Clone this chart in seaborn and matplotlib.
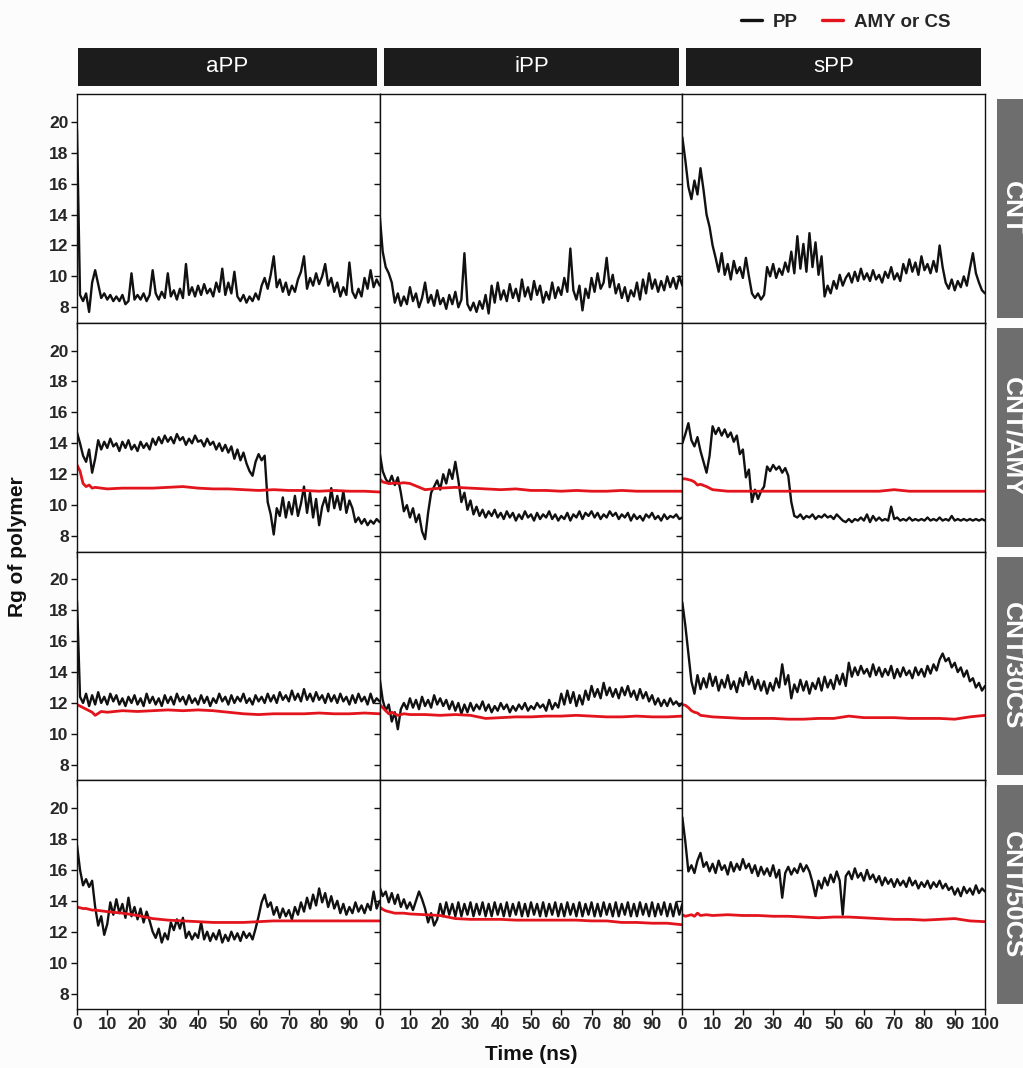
import matplotlib
matplotlib.use("Agg")
import matplotlib.pyplot as plt
import seaborn as sns
import pandas as pd
from matplotlib.patches import Rectangle
from matplotlib.lines import Line2D

# ---------------- data ----------------
POLYMERS = ["aPP", "iPP", "sPP"]
SYSTEMS = ["CNT", "CNT/AMY", "CNT/30CS", "CNT/50CS"]
PP_TIME = list(range(0, 101))
RED_TIME = [0, 1, 2, 3, 4, 5, 6, 8, 10, 15, 20, 25, 30, 35, 40, 45, 50, 55, 60,
            65, 70, 75, 80, 85, 90, 95, 100]
X_TICKS_AB = [0, 10, 20, 30, 40, 50, 60, 70, 80, 90]
X_TICKS_S = [0, 10, 20, 30, 40, 50, 60, 70, 80, 90, 100]
Y_TICKS = [8, 10, 12, 14, 16, 18, 20]

aPP_CNT_PP = [
    19.5, 8.8, 8.4, 8.9, 7.7, 9.6, 10.4, 9.5, 8.6, 8.9,
    8.5, 8.8, 8.4, 8.7, 8.4, 8.8, 8.2, 8.4, 10.2, 8.5,
    8.8, 8.5, 8.9, 8.4, 8.8, 10.4, 8.9, 8.5, 9.0, 8.6,
    10.2, 8.7, 9.1, 8.5, 9.2, 8.6, 10.8, 8.8, 9.3, 8.7,
    9.4, 8.8, 9.5, 8.9, 9.2, 8.7, 9.6, 9.0, 10.5, 8.8,
    9.6, 8.9, 10.3, 8.7, 8.4, 8.8, 8.3, 8.7, 8.4, 8.9,
    8.5, 9.4, 9.9, 9.2, 10.1, 11.3, 9.3, 9.8, 9.0, 9.6,
    8.8, 9.4, 9.0, 9.8, 10.3, 11.3, 9.2, 9.9, 9.4, 10.2,
    9.5, 10.0, 10.8, 9.4, 9.9, 9.0, 9.6, 8.7, 9.3, 8.8,
    10.9, 9.0, 8.6, 9.2, 8.7, 9.9, 9.2, 10.4, 9.3, 9.8,
    9.4]
iPP_CNT_PP = [
    14.0, 11.6, 10.6, 10.2, 9.6, 8.3, 8.9, 8.1, 8.7, 8.2,
    9.3, 8.4, 8.9, 8.0, 8.6, 9.6, 8.3, 8.8, 8.1, 9.1,
    8.2, 8.6, 7.9, 8.8, 8.2, 9.0, 8.0, 8.5, 11.5, 8.2,
    7.8, 8.3, 7.7, 8.4, 7.9, 8.8, 7.6, 9.4, 8.3, 9.6,
    8.5, 9.1, 8.4, 9.5, 8.6, 9.2, 8.4, 9.8, 8.7, 9.3,
    8.5, 9.7, 8.8, 9.4, 8.3, 9.0, 8.5, 9.6, 8.6, 9.3,
    8.8, 9.9, 9.0, 11.8, 9.1, 8.5, 9.4, 7.8, 9.2, 8.6,
    9.9, 9.0, 10.2, 9.2, 9.6, 11.2, 9.3, 10.1, 8.9, 9.5,
    8.6, 9.3, 8.4, 9.1, 8.7, 9.6, 8.5, 9.8, 8.9, 10.2,
    9.2, 9.8, 9.0, 9.7, 9.1, 10.0, 9.3, 9.9, 9.2, 10.0,
    9.4]
sPP_CNT_PP = [
    19.0, 17.5, 15.8, 15.0, 16.2, 15.3, 17.0, 15.6, 14.0, 13.2,
    12.0, 11.2, 10.3, 11.5, 10.1, 10.8, 9.8, 11.0, 10.2, 10.6,
    9.9, 11.2, 10.0, 8.9, 8.6, 8.9, 8.5, 8.8, 10.6, 10.0,
    10.8, 9.9, 10.5, 10.1, 10.9, 10.3, 11.6, 10.2, 12.6, 10.5,
    12.1, 10.3, 12.8, 10.6, 12.2, 10.1, 11.3, 8.7, 9.4, 8.9,
    9.7, 9.2, 10.1, 9.4, 9.9, 10.2, 9.6, 10.3, 9.7, 10.5,
    9.8, 10.2, 9.7, 10.4, 9.8, 10.1, 9.6, 10.3, 9.9, 10.6,
    9.8, 10.2, 9.7, 10.8, 10.2, 11.1, 10.3, 10.9, 10.1, 11.3,
    10.4, 10.8, 10.2, 11.0, 10.3, 12.0, 10.6, 9.6, 9.2, 9.8,
    9.1, 9.7, 9.3, 10.0, 9.4, 10.5, 11.5, 10.2, 9.6, 9.1,
    8.9]

aPP_AMY_PP = [
    14.7, 14.0, 13.2, 12.8, 13.6, 12.1, 13.0, 14.2, 13.6, 14.1,
    13.7, 14.3, 13.8, 14.0, 13.5, 14.1, 13.7, 14.2, 13.6, 13.9,
    13.5, 14.1, 13.7, 14.0, 13.6, 14.3, 13.9, 14.4, 14.0, 14.5,
    14.1, 14.4, 14.0, 14.6, 14.2, 14.4, 13.9, 14.3, 14.0, 14.5,
    14.1, 14.2, 13.8, 14.3, 13.9, 14.1, 13.6, 14.0, 13.5, 13.9,
    13.4, 13.8, 13.0, 13.6, 12.9, 13.4, 12.7, 12.2, 11.9, 12.8,
    13.3, 12.9, 13.2, 10.2, 9.4, 8.1, 9.8, 9.3, 10.5, 9.2,
    10.2, 9.4, 10.6, 9.3, 10.1, 11.2, 9.5, 10.8, 9.2, 10.4,
    8.7, 9.9, 10.5, 9.6, 11.1, 9.8, 10.6, 9.7, 10.9, 9.5,
    10.3, 9.8, 8.9, 9.2, 8.8, 9.1, 8.7, 9.0, 8.8, 9.1,
    8.9]
iPP_AMY_PP = [
    13.4, 12.2, 11.7, 11.4, 11.9, 11.3, 11.8, 10.8, 9.6, 10.0,
    9.2, 9.8, 8.9, 9.4, 8.3, 7.8, 9.5, 10.8, 11.2, 11.6,
    11.0, 12.0, 11.4, 12.3, 11.7, 12.8, 11.6, 10.2, 10.8, 9.7,
    10.3, 9.4, 9.9, 9.3, 9.7, 9.2, 9.6, 9.3, 9.7, 9.2,
    9.5, 9.1, 9.6, 9.2, 9.5, 9.0, 9.4, 9.1, 9.6, 9.2,
    9.4, 9.0, 9.5, 9.1, 9.4, 9.2, 9.6, 9.1, 9.4, 9.0,
    9.3, 9.1, 9.5, 9.0, 9.4, 9.2, 9.6, 9.1, 9.5, 9.3,
    9.6, 9.2, 9.5, 9.1, 9.4, 9.2, 9.6, 9.3, 9.5, 9.1,
    9.4, 9.2, 9.5, 9.0, 9.4, 9.1, 9.3, 9.0, 9.4, 9.2,
    9.5, 9.1, 9.3, 9.0, 9.4, 9.1, 9.3, 9.2, 9.4, 9.1,
    9.2]
sPP_AMY_PP = [
    14.0, 14.6, 15.3, 14.2, 13.8, 14.4, 13.5, 12.8, 12.1, 13.2,
    15.1, 14.6, 15.0, 14.5, 14.9, 14.4, 14.7, 14.1, 14.5, 13.3,
    13.6, 11.8, 12.3, 10.2, 11.0, 10.4, 10.9, 11.2, 12.5, 12.2,
    12.6, 12.3, 12.5, 12.1, 12.4, 11.9, 10.2, 9.3, 9.2, 9.4,
    9.1, 9.3, 9.2, 9.4, 9.1, 9.3, 9.2, 9.4, 9.2, 9.3,
    9.1, 9.4, 9.2, 9.0, 8.9, 9.1, 8.9, 9.1, 9.0, 9.2,
    9.0, 9.4, 8.9, 9.3, 9.0, 9.2, 9.0, 9.1, 9.0, 9.9,
    9.1, 9.2, 9.0, 9.1, 9.0, 9.2, 9.0, 9.1, 9.0, 9.1,
    9.0, 9.2, 9.0, 9.1, 9.0, 9.2, 9.0, 9.1, 9.0, 9.3,
    9.0, 9.1, 9.0, 9.1, 9.0, 9.1, 9.0, 9.1, 9.0, 9.1,
    9.0]

aPP_30CS_PP = [
    18.6, 12.4, 12.0, 12.6, 11.8, 12.5, 11.9, 12.7, 12.0, 12.4,
    11.9, 12.6, 12.1, 12.5, 11.9, 12.3, 11.8, 12.4, 12.0, 12.5,
    11.9, 12.3, 11.8, 12.6, 12.0, 12.4, 11.9, 12.3, 11.8, 12.5,
    12.0, 12.4, 11.9, 12.6, 12.1, 12.4, 11.9, 12.5, 12.0, 12.3,
    11.9, 12.5, 12.0, 12.4, 11.8, 12.3, 12.0, 12.6, 12.1, 12.4,
    11.9, 12.5, 12.0, 12.4, 12.1, 12.6, 12.0, 12.3, 11.9, 12.5,
    12.1, 12.4, 12.0, 12.6, 12.1, 12.5, 12.0, 12.7, 12.2, 12.5,
    12.1, 12.8, 12.2, 12.6, 12.1, 12.9, 12.2, 12.6, 12.1, 12.7,
    12.2, 12.5, 12.0, 12.6, 12.1, 12.5, 12.0, 12.6, 12.1, 12.4,
    11.9, 12.5, 12.0, 12.6, 12.1, 12.4, 11.9, 12.6, 12.0, 12.3,
    12.1]
iPP_30CS_PP = [
    13.6, 12.2, 11.5, 11.9, 10.8, 11.4, 10.3, 11.6, 12.0, 11.6,
    12.3, 11.7, 12.2, 11.6, 12.4, 11.8, 12.2, 11.7, 12.5, 11.9,
    12.3, 11.8, 12.2, 11.6, 12.1, 11.5, 12.0, 11.3, 11.9, 11.4,
    12.0, 11.5, 11.9, 11.6, 12.1, 11.5, 11.9, 11.4, 11.8, 11.5,
    12.0, 11.6, 11.9, 11.4, 11.8, 11.5, 11.9, 11.6, 12.0, 11.5,
    11.8, 11.6, 12.0, 11.7, 11.9, 11.5, 12.2, 11.6, 12.0, 11.7,
    12.6, 11.9, 12.8, 12.0, 12.7, 11.8, 12.5, 11.9, 12.8, 12.2,
    13.1, 12.4, 12.9, 12.3, 13.3, 12.5, 13.0, 12.4, 12.9, 12.3,
    13.0, 12.5, 13.1, 12.4, 12.8, 12.2, 12.9, 12.3, 12.7, 12.1,
    12.5, 11.9, 12.3, 11.8, 12.2, 11.8, 12.3, 11.9, 12.1, 11.8,
    12.0]
sPP_30CS_PP = [
    18.5, 17.0, 15.2, 13.4, 12.6, 13.8, 12.9, 13.6, 13.0, 13.9,
    13.1, 13.7, 12.8, 13.5, 13.0, 13.8, 12.9, 13.4, 12.7, 13.6,
    13.1, 14.0, 13.2, 13.7, 12.9, 13.5, 12.8, 13.4, 12.6, 13.3,
    12.8, 13.6, 13.0, 14.5, 13.2, 13.8, 12.3, 13.2, 12.7, 13.5,
    12.8, 13.4, 12.6, 13.3, 12.9, 13.6, 12.8, 13.7, 13.0, 13.5,
    12.9, 13.8, 13.2, 13.9, 13.1, 14.6, 13.7, 14.3, 13.8, 14.4,
    13.9, 14.2, 13.7, 14.5, 13.8, 14.3, 13.7, 14.2, 13.8, 14.4,
    13.6, 14.2, 13.7, 14.3, 13.8, 14.1, 13.6, 14.3, 13.8, 14.2,
    13.7, 14.4, 13.9, 14.5, 14.1, 14.8, 15.2, 14.7, 14.9, 14.3,
    14.6, 14.0, 14.3, 13.7, 14.1, 13.4, 13.6, 13.0, 13.3, 12.8,
    13.1]

aPP_50CS_PP = [
    17.6, 16.0, 15.0, 15.4, 14.9, 15.3, 13.6, 12.4, 13.0, 11.8,
    12.5, 13.9, 13.1, 14.1, 13.2, 13.8, 12.9, 14.2, 13.0, 13.6,
    12.8, 13.5, 12.6, 13.3, 12.7, 12.0, 11.6, 12.2, 11.3, 11.9,
    11.5, 12.6, 12.1, 12.8, 12.2, 12.9, 11.6, 12.0, 11.5, 11.9,
    11.6, 12.6, 11.5, 12.0, 11.4, 11.9, 11.5, 12.1, 11.3, 11.8,
    11.4, 12.0, 11.5, 11.9, 11.4, 12.0, 11.6, 11.9, 11.5, 12.2,
    13.0, 13.9, 14.4, 13.6, 13.9, 13.1, 13.6, 12.9, 13.5, 13.0,
    13.4, 12.8, 13.6, 13.1, 13.9, 13.3, 14.2, 13.5, 14.4, 13.7,
    14.8, 13.9, 14.5, 13.6, 14.3, 13.5, 14.0, 13.2, 13.8, 13.1,
    13.6, 13.2, 13.9, 13.3, 13.7, 13.2, 13.8, 13.4, 14.6, 13.5,
    14.0]
iPP_50CS_PP = [
    14.9, 14.3, 14.6, 13.9, 14.5, 13.8, 14.4, 13.6, 14.1, 13.5,
    13.9, 13.4, 14.0, 14.6, 14.1, 13.5, 12.6, 13.2, 12.4, 12.8,
    13.8, 13.0, 13.9, 13.1, 13.8, 13.0, 13.9, 13.0, 13.8, 13.1,
    13.9, 13.0, 13.8, 13.1, 13.9, 13.0, 13.8, 13.0, 13.9, 13.1,
    13.8, 13.0, 13.9, 13.0, 13.8, 13.1, 13.9, 13.0, 13.8, 13.0,
    13.9, 13.1, 13.8, 13.0, 13.9, 13.0, 13.8, 13.1, 13.9, 13.0,
    13.8, 13.0, 13.9, 13.1, 13.8, 13.0, 13.9, 13.0, 13.8, 13.1,
    13.9, 13.0, 13.8, 13.0, 13.9, 13.1, 13.8, 13.0, 13.9, 13.0,
    13.8, 13.1, 13.9, 13.0, 13.8, 13.0, 13.9, 13.1, 13.8, 13.0,
    13.9, 13.0, 13.8, 13.1, 13.9, 13.0, 13.8, 13.0, 13.9, 13.1,
    13.8]
sPP_50CS_PP = [
    19.4, 17.8, 15.9, 16.3, 15.8, 16.6, 17.1, 16.2, 16.5, 15.9,
    16.4, 15.8, 16.6, 16.0, 16.3, 15.7, 16.5, 15.9, 16.4, 16.0,
    16.7, 16.1, 16.4, 15.8, 16.3, 15.6, 16.2, 15.7, 16.1, 15.6,
    16.3, 15.5, 16.0, 14.2, 15.8, 16.2, 15.7, 16.1, 15.8, 16.4,
    15.9, 16.3, 15.9, 15.2, 14.3, 15.3, 14.8, 15.5, 15.0, 15.7,
    15.2, 15.9, 15.3, 13.1, 15.6, 15.9, 15.4, 16.1, 15.5, 15.8,
    15.3, 16.0, 15.4, 15.7, 15.2, 15.6, 15.0, 15.5, 15.1, 15.4,
    14.9, 15.4, 15.0, 15.3, 14.9, 15.5, 15.0, 15.3, 14.8, 15.2,
    14.9, 15.3, 14.8, 15.2, 14.9, 15.3, 14.8, 15.1, 14.7, 14.9,
    14.4, 14.8, 14.3, 14.9, 14.5, 14.8, 14.4, 15.0, 14.5, 14.8,
    14.6]

aPP_AMY_RED = [12.6, 12.2, 11.4, 11.2, 11.3, 11.1, 11.15, 11.1, 11.05, 11.1, 11.1, 11.1, 11.15, 11.2,
               11.1, 11.05, 11.05, 11.0, 10.95, 11.0, 10.95, 10.95, 10.9, 10.95, 10.9, 10.9, 10.85]
iPP_AMY_RED = [11.7, 11.5, 11.45, 11.4, 11.4, 11.45, 11.4, 11.45, 11.4, 11.0, 11.1, 11.15, 11.1, 11.05,
               11.0, 11.05, 10.95, 10.95, 10.9, 10.95, 10.9, 10.9, 10.95, 10.9, 10.9, 10.9, 10.9]
sPP_AMY_RED = [11.7, 11.7, 11.65, 11.6, 11.5, 11.3, 11.35, 11.2, 11.0, 10.9, 10.9, 10.9, 10.9, 10.9,
               10.9, 10.9, 10.9, 10.9, 10.9, 10.9, 11.0, 10.9, 10.9, 10.9, 10.9, 10.9, 10.9]
aPP_30CS_RED = [11.9, 11.8, 11.7, 11.6, 11.5, 11.4, 11.2, 11.45, 11.4, 11.5, 11.45, 11.5, 11.55, 11.5,
                11.55, 11.5, 11.4, 11.3, 11.25, 11.3, 11.3, 11.3, 11.35, 11.3, 11.3, 11.35, 11.3]
iPP_30CS_RED = [11.9, 11.7, 11.5, 11.3, 11.4, 11.3, 11.2, 11.3, 11.25, 11.25, 11.2, 11.25, 11.2, 11.0,
                11.05, 11.1, 11.1, 11.15, 11.15, 11.2, 11.15, 11.1, 11.1, 11.15, 11.1, 11.1, 11.15]
sPP_30CS_RED = [11.9, 11.85, 11.7, 11.5, 11.4, 11.35, 11.2, 11.15, 11.1, 11.05, 11.0, 11.0, 11.0, 10.95,
                10.95, 11.0, 11.0, 11.15, 11.05, 11.05, 11.05, 11.0, 11.0, 11.0, 10.95, 11.1, 11.2]
aPP_50CS_RED = [13.6, 13.55, 13.5, 13.5, 13.45, 13.4, 13.4, 13.35, 13.3, 13.2, 13.05, 12.85, 12.75, 12.7,
                12.65, 12.6, 12.6, 12.6, 12.65, 12.7, 12.7, 12.7, 12.7, 12.7, 12.7, 12.7, 12.7]
iPP_50CS_RED = [13.6, 13.45, 13.35, 13.3, 13.25, 13.2, 13.2, 13.2, 13.15, 13.1, 13.05, 12.85, 12.8, 12.8,
                12.8, 12.75, 12.75, 12.75, 12.75, 12.75, 12.7, 12.7, 12.6, 12.6, 12.55, 12.55, 12.45]
sPP_50CS_RED = [13.1, 13.0, 13.05, 13.1, 13.0, 13.2, 13.05, 13.1, 13.05, 13.1, 13.05, 13.05, 13.0, 13.0,
                12.95, 12.9, 12.95, 12.95, 12.9, 12.85, 12.8, 12.8, 12.75, 12.8, 12.85, 12.7, 12.65]

PP_SERIES = {
    ("CNT", "aPP"): aPP_CNT_PP, ("CNT", "iPP"): iPP_CNT_PP, ("CNT", "sPP"): sPP_CNT_PP,
    ("CNT/AMY", "aPP"): aPP_AMY_PP, ("CNT/AMY", "iPP"): iPP_AMY_PP, ("CNT/AMY", "sPP"): sPP_AMY_PP,
    ("CNT/30CS", "aPP"): aPP_30CS_PP, ("CNT/30CS", "iPP"): iPP_30CS_PP, ("CNT/30CS", "sPP"): sPP_30CS_PP,
    ("CNT/50CS", "aPP"): aPP_50CS_PP, ("CNT/50CS", "iPP"): iPP_50CS_PP, ("CNT/50CS", "sPP"): sPP_50CS_PP,
}
RED_SERIES = {
    ("CNT/AMY", "aPP"): aPP_AMY_RED, ("CNT/AMY", "iPP"): iPP_AMY_RED, ("CNT/AMY", "sPP"): sPP_AMY_RED,
    ("CNT/30CS", "aPP"): aPP_30CS_RED, ("CNT/30CS", "iPP"): iPP_30CS_RED, ("CNT/30CS", "sPP"): sPP_30CS_RED,
    ("CNT/50CS", "aPP"): aPP_50CS_RED, ("CNT/50CS", "iPP"): iPP_50CS_RED, ("CNT/50CS", "sPP"): sPP_50CS_RED,
}

rows = []
for (sys_, pol), vals in PP_SERIES.items():
    for t, v in zip(PP_TIME, vals):
        rows.append((sys_, pol, "PP", t, v))
for (sys_, pol), vals in RED_SERIES.items():
    for t, v in zip(RED_TIME, vals):
        rows.append((sys_, pol, "AMY or CS", t, v))
df = pd.DataFrame(rows, columns=["system", "polymer", "series", "time", "rg"])

# ---------------- style ----------------
sns.set_theme(style="white")
plt.rcParams["font.family"] = ["Liberation Sans", "DejaVu Sans"]
plt.rcParams["font.weight"] = "bold"
plt.rcParams["axes.edgecolor"] = "#111111"

W, H = 1023, 1068
BLACK = "#111111"
RED = "#e3141c"
HEADER = "#1c1c1c"
STRIP = "#6e6e6e"

fig = plt.figure(figsize=(W / 100, H / 100), dpi=100)
fig.patch.set_facecolor("#fcfcfd")
gs = fig.add_gridspec(4, 3, left=77 / W, right=985 / W, top=1 - 94 / H,
                      bottom=1 - 1009 / H, hspace=0, wspace=0)

axes = [[None] * 3 for _ in range(4)]
for r, sys_ in enumerate(SYSTEMS):
    for c, pol in enumerate(POLYMERS):
        ax = fig.add_subplot(gs[r, c])
        axes[r][c] = ax
        ax.set_facecolor("white")
        sub = df[(df.system == sys_) & (df.polymer == pol)]
        pp = sub[sub.series == "PP"]
        sns.lineplot(data=pp, x="time", y="rg", ax=ax, color=BLACK, linewidth=1.7,
                     estimator=None, legend=False, sort=True)
        red = sub[sub.series == "AMY or CS"]
        if len(red):
            sns.lineplot(data=red, x="time", y="rg", ax=ax, color=RED, linewidth=2.0,
                         estimator=None, legend=False, sort=True)
        ax.set_xlim(0, 100)
        ax.set_ylim(7, 21.8)
        ticks = X_TICKS_S if c == 2 else X_TICKS_AB
        ax.set_xticks(ticks)
        ax.set_yticks(Y_TICKS)
        if r == 3:
            ax.set_xticklabels([str(t) for t in ticks], fontsize=12.5, fontweight="bold")
        else:
            ax.set_xticklabels([])
        if c == 0:
            ax.set_yticklabels([str(t) for t in Y_TICKS], fontsize=12.5, fontweight="bold")
        else:
            ax.set_yticklabels([])
        ax.tick_params(axis="both", direction="out", length=4, width=1, color=BLACK,
                       pad=2, bottom=True, left=True)
        ax.set_xlabel("")
        ax.set_ylabel("")
        for sp in ax.spines.values():
            sp.set_color(BLACK)
            sp.set_linewidth(1.0)

# column headers
header_x = [(78, 377), (384, 679), (686, 981)]
for (x0, x1), pol in zip(header_x, POLYMERS):
    fig.patches.append(Rectangle((x0 / W, 1 - 86 / H), (x1 - x0) / W, 38 / H,
                                 transform=fig.transFigure, facecolor=HEADER,
                                 edgecolor="none", zorder=2))
    fig.text((x0 + x1) / 2 / W, 1 - 67 / H, pol, color="white", fontsize=16,
             fontweight="normal", ha="center", va="center", zorder=3)

# row strips
for r, sys_ in enumerate(SYSTEMS):
    bb = axes[r][0].get_position()
    y0 = bb.y0 + 5 / H
    y1 = bb.y1 - 5 / H
    fig.patches.append(Rectangle((997 / W, y0), 40 / W, y1 - y0,
                                 transform=fig.transFigure, facecolor=STRIP,
                                 edgecolor="none", zorder=2))
    fig.text(1012 / W, (y0 + y1) / 2, sys_, color="white", fontsize=19,
             fontweight="bold", rotation=270, ha="center", va="center", zorder=3)

# axis titles
fig.text(18 / W, 1 - 547 / H, "Rg of polymer", rotation=90, fontsize=15,
         fontweight="bold", ha="center", va="center", color=BLACK)
fig.text(531 / W, 1 - 1055 / H, "Time (ns)", fontsize=15, fontweight="bold",
         ha="center", va="center", color=BLACK)

# legend
handles = [Line2D([0], [0], color=BLACK, lw=2.4), Line2D([0], [0], color=RED, lw=2.4)]
leg = fig.legend(handles, ["PP", "AMY or CS"], loc="center",
                 bbox_to_anchor=(846 / W, 1 - 22 / H), ncol=2, frameon=False,
                 fontsize=13.5, handlelength=1.1, handletextpad=0.6,
                 columnspacing=1.3)
for txt in leg.get_texts():
    txt.set_fontweight("bold")

fig.savefig("out.png", dpi=100, facecolor=fig.get_facecolor())
